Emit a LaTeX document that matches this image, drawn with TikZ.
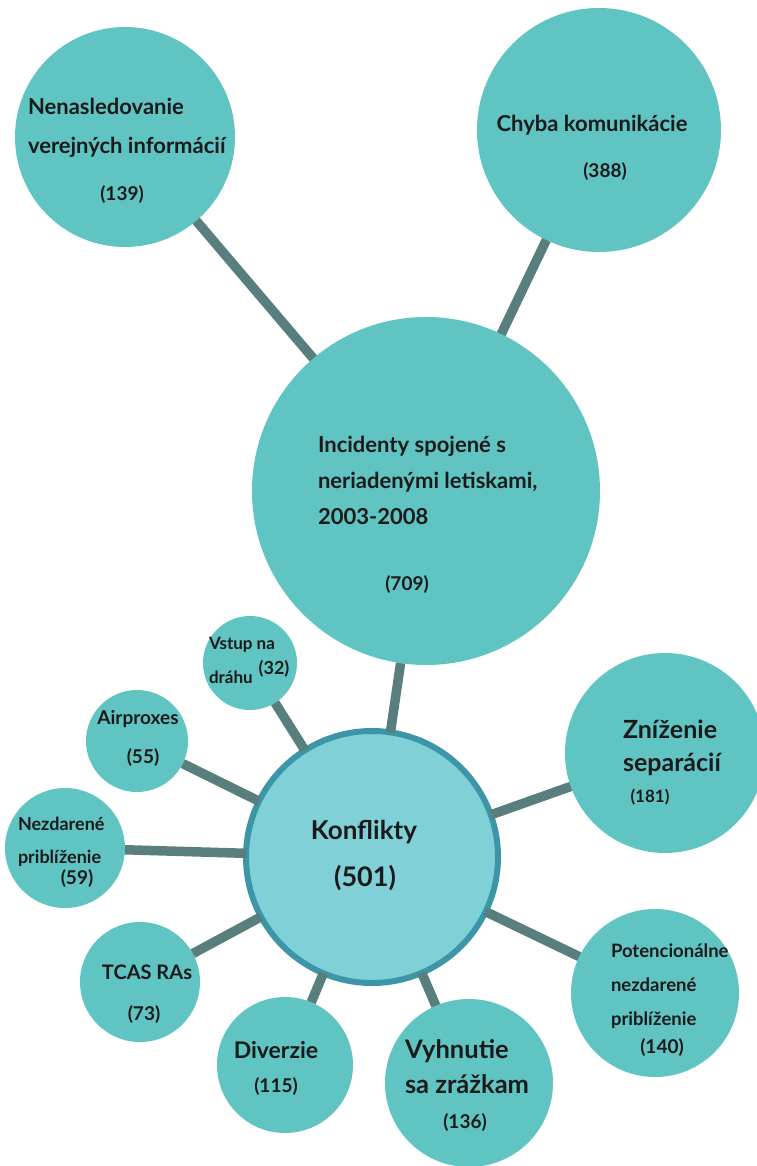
\documentclass[tikz,border=0pt]{standalone}
\usepackage{fontspec}
\setmainfont{Lato}
\definecolor{c5fc4c2}{RGB}{95,196,194}
\definecolor{c80d0d8}{RGB}{128,208,216}
\definecolor{c3c96a8}{RGB}{60,150,168}
\definecolor{c587e7e}{RGB}{88,126,126}
\definecolor{c1a1a1a}{RGB}{26,26,26}
\tikzset{
  bubble/.style={circle, fill=c5fc4c2, minimum size=#1},
  link/.style={draw=c587e7e, line width=9.5pt},
  txt/.style 2 args={text=c1a1a1a, font=\bfseries\fontsize{#1}{#2}\selectfont},
}

\begin{document}
\begin{tikzpicture}[x=1pt, y=-1pt, inner sep=0pt, outer sep=0pt]
  \useasboundingbox (0,0) rectangle (756,1166);

  \node[bubble=348] (incidenty) at (426,491) {};
  \node[bubble=220] (nenasled) at (125,137) {};
  \node[bubble=244] (chyba) at (599,130) {};
  \node[bubble=252, fill=c80d0d8, draw=c3c96a8, line width=6pt] (konflikty) at (372,857) {};
  \node[bubble=94] (vstup) at (250,663) {};
  \node[bubble=102] (airprox) at (137,741) {};
  \node[bubble=120] (nezdar) at (65,848) {};
  \node[bubble=120] (tcas) at (140,982) {};
  \node[bubble=136] (diverz) at (285,1065) {};
  \node[bubble=168] (vyhnut) at (469,1083) {};
  \node[bubble=200] (znizen) at (665,753) {};
  \node[bubble=168] (potenc) at (655,993) {};

  \path[link] (nenasled) -- (incidenty);
  \path[link] (chyba) -- (incidenty);
  \path[link] (incidenty) -- (konflikty);
  \path[link] (konflikty) -- (vstup);
  \path[link] (konflikty) -- (airprox);
  \path[link] (konflikty) -- (nezdar);
  \path[link] (konflikty) -- (tcas);
  \path[link] (konflikty) -- (diverz);
  \path[link] (konflikty) -- (vyhnut);
  \path[link] (konflikty) -- (znizen);
  \path[link] (konflikty) -- (potenc);

  \node[txt={22}{39}, align=left, anchor=west] (text1) at (28,127.5) {Nenasledovanie\\verejných informácií};
  \node[txt={19}{19}] (text2) at (122,195) {(139)};
  \node[txt={22}{22}] (text3) at (592,125) {Chyba komunikácie};
  \node[txt={19}{19}] (text4) at (605,172) {(388)};
  \node[txt={22}{36}, align=left, anchor=west] (text5) at (318,480) {Incidenty spojené s\\neriadenými letiskami,\\2003-2008};
  \node[txt={19}{19}] (text6) at (407,585) {(709)};
  \node[txt={26}{26}] (text7) at (364,832) {Konflikty};
  \node[txt={27}{27}] (text8) at (365,878) {(501)};
  \node[txt={17}{34}, align=left, anchor=west] (text9) at (209,660) {Vstup na\\dráhu};
  \node[txt={18}{18}] (text10) at (274,669) {(32)};
  \node[txt={19}{19}] (text11) at (138,719) {Airproxes};
  \node[txt={19}{19}] (text12) at (143,758) {(55)};
  \node[txt={18}{33}, align=left, anchor=west] (text13) at (18,841.5) {Nezdarené\\priblíženie};
  \node[txt={19}{19}] (text14) at (77,879) {(59)};
  \node[txt={20}{20}] (text15) at (147,972) {TCAS RAs};
  \node[txt={19}{19}] (text16) at (144,1015) {(73)};
  \node[txt={23}{23}] (text17) at (276,1050) {Diverzie};
  \node[txt={19}{19}] (text18) at (276,1087) {(115)};
  \node[txt={25.5}{35}, align=left, anchor=west] (text19) at (405,1067) {Vyhnutie\\sa zrážkam};
  \node[txt={19}{19}] (text20) at (465,1123) {(136)};
  \node[txt={25}{33}, align=left, anchor=west] (text21) at (623,748) {Zníženie\\separácií};
  \node[txt={17}{17}] (text22) at (650,797) {(181)};
  \node[txt={18.5}{34}, align=left, anchor=west] (text23) at (611,986) {Potencionálne\\nezdarené\\priblíženie};
  \node[txt={19}{19}] (text24) at (662,1048) {(140)};

\end{tikzpicture}
\end{document}
